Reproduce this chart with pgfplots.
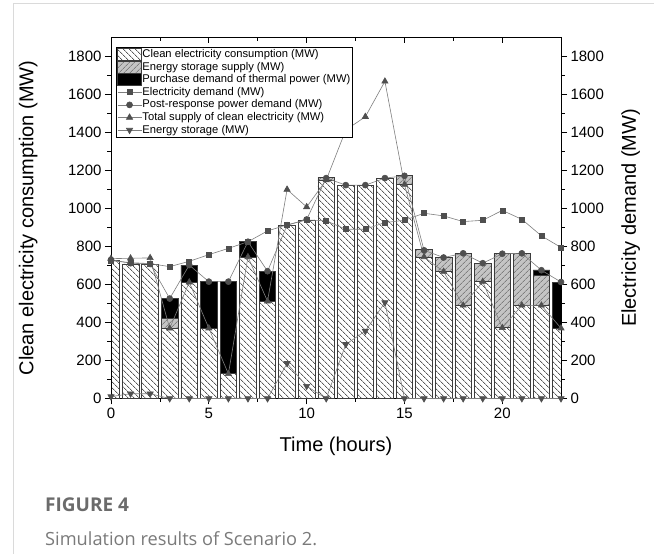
\documentclass[border=0pt]{standalone}
\usepackage{fontspec}
\setmainfont{Liberation Sans}
\newfontfamily\capfont{Open Sans}
\usepackage{pgfplots}
\usepackage{pgfplotstable}
\pgfplotsset{compat=1.18}
\usetikzlibrary{patterns.meta}

\definecolor{lincol}{HTML}{7E7E7E}
\definecolor{mkcol}{HTML}{4F4F4F}
\definecolor{stor}{HTML}{C4C4C4}
\definecolor{barline}{HTML}{3C3C3C}
\definecolor{capgray}{HTML}{6B6B6B}
\definecolor{framegray}{HTML}{DADADA}

% h: hour, clean/stor/therm: stacked bars, dem/post/sup/est: lines
\pgfplotstableread{
h  clean stor therm dem post sup  est
0  725   0    0     725 730  736  10
1  708   0    0     715 712  738  25
2  705   0    0     710 708  740  25
3  369   52   105   694 526  369  0
4  612   0    90    722 702  612  0
5  370   0    245   757 615  370  0
6  130   0    485   790 615  130  0
7  745   0    80    825 825  745  0
8  512   0    158   882 670  512  0
9  912   0    0     914 912  1100 185
10 940   0    0     940 942  1008 65
11 1150  15   0     935 1160 1150 0
12 1123  0    0     891 1123 1413 285
13 1123  0    0     891 1123 1483 355
14 1160  0    0     926 1160 1669 505
15 1126  48   0     938 1172 1126 0
16 745   38   0     975 780  745  0
17 668   75   0     961 742  668  0
18 490   274  0     931 764  490  0
19 615   97   0     938 712  615  0
20 372   390  0     990 762  372  0
21 490   274  0     943 764  490  0
22 490   157  30    856 675  490  0
23 370   0    243   795 613  370  0
}\data

\begin{document}
\begin{tikzpicture}
\useasboundingbox (0,0) rectangle (654pt,554pt);
\draw[framegray, line width=1pt] (13pt,0) -- (13pt,550pt) -- (654pt,550pt);

\pgfplotsset{
  base/.style={
    at={(111pt,155.5pt)}, anchor=south west,
    scale only axis, width=450pt, height=361pt,
    xmin=0, xmax=23, ymin=0, ymax=1900,
    xtick={0,5,10,15,20}, minor x tick num=1,
    ytick={0,200,...,1800}, minor y tick num=1,
    major tick length=6pt, minor tick length=3.5pt,
    tick style={line width=0.8pt, black},
    axis line style={line width=1pt},
    tick label style={font=\fontsize{15}{15}\selectfont},
    label style={font=\fontsize{20}{20}\selectfont},
    /pgf/number format/assume math mode=true,
    /pgf/number format/1000 sep={},
  }
}

% stacked bars
\begin{axis}[base,
  ybar stacked, bar width=0.85,
  tick align=outside, xtick pos=lower, ytick pos=left,
  xlabel={Time (hours)}, ylabel={Clean electricity consumption (MW)},
  xlabel style={at={(axis description cs:0.5,-0.132)}, anchor=center},
  ylabel style={at={(axis description cs:-0.184,0.5)}, anchor=center},
]
\addplot[draw=barline, line width=0.7pt,
  pattern={Lines[angle=-45,distance=4pt,line width=0.5pt]}, pattern color=black]
  table[x=h,y=clean]{\data};
\addplot[fill=stor, draw=barline, line width=0.7pt,
  postaction={pattern={Lines[angle=45,distance=4pt,line width=0.5pt]}, pattern color=gray!70!black}]
  table[x=h,y=stor]{\data};
\addplot[fill=black, draw=barline, line width=0.7pt]
  table[x=h,y=therm]{\data};
\end{axis}

% top ticks
\begin{axis}[base, axis x line*=top, axis y line=none,
  tick align=inside, xticklabels={}]
\end{axis}

% lines and right axis
\begin{axis}[base, axis y line*=right, axis x line=none,
  tick align=outside,
  ylabel={Electricity demand (MW)},
  ylabel style={at={(axis description cs:1.155,0.5)}, anchor=center},
  legend cell align=left,
  legend style={at={(axis description cs:0.011,0.974)}, anchor=north west,
    draw=black, line width=0.6pt, inner sep=1pt, row sep=0pt,
    font=\fontsize{11.2}{12}\selectfont,
    nodes={inner sep=0.6pt, text height=8.8pt, text depth=2.6pt}},
  legend image code/.code={\draw[mark repeat=2,mark phase=2,#1]
    plot coordinates {(0pt,0pt) (12pt,0pt) (24pt,0pt)};},
  every axis plot/.append style={lincol, line width=0.6pt},
]
\addlegendimage{legend image code/.code={\draw[draw=barline, line width=0.6pt,
  pattern={Lines[angle=-45,distance=4pt,line width=0.5pt]}, pattern color=black]
  (0pt,-6pt) rectangle (24pt,6pt);}}
\addlegendentry{Clean electricity consumption (MW)}
\addlegendimage{legend image code/.code={\draw[fill=stor, draw=barline, line width=0.6pt,
  postaction={pattern={Lines[angle=45,distance=4pt,line width=0.5pt]}, pattern color=gray!70!black}]
  (0pt,-6pt) rectangle (24pt,6pt);}}
\addlegendentry{Energy storage supply (MW)}
\addlegendimage{legend image code/.code={\draw[fill=black, draw=barline, line width=0.6pt]
  (0pt,-6pt) rectangle (24pt,6pt);}}
\addlegendentry{Purchase demand of thermal power (MW)}

\addplot[mark=square*, mark size=2.5pt, mark options={fill=mkcol, draw=mkcol}]
  table[x=h,y=dem]{\data};
\addlegendentry{Electricity demand (MW)}
\addplot[mark=*, mark size=3pt, mark options={fill=mkcol, draw=mkcol}]
  table[x=h,y=post]{\data};
\addlegendentry{Post-response power demand (MW)}
\addplot[mark=triangle*, mark size=3.6pt, mark options={fill=mkcol, draw=mkcol}]
  table[x=h,y=sup]{\data};
\addlegendentry{Total supply of clean electricity (MW)}
\addplot[mark=triangle*, mark size=3.6pt, mark options={fill=mkcol, draw=mkcol, rotate=180}]
  table[x=h,y=est]{\data};
\addlegendentry{Energy storage (MW)}
\end{axis}

\node[anchor=base west, inner sep=0pt, text=capgray,
  font=\capfont\bfseries\fontsize{19}{20}\selectfont] at (45pt,42pt) {FIGURE 4};
\node[anchor=base west, inner sep=0pt, text=capgray!90!white,
  font=\capfont\fontsize{18.2}{20}\selectfont] at (45pt,8pt) {Simulation results of Scenario 2.};
\end{tikzpicture}
\end{document}
